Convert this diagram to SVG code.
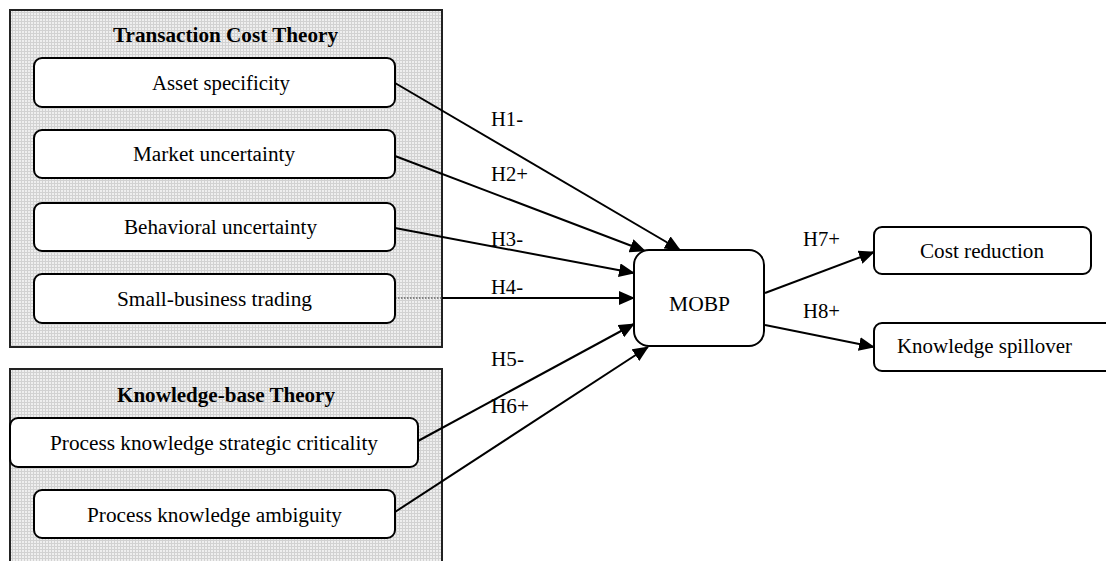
<svg xmlns="http://www.w3.org/2000/svg" width="1106" height="561" viewBox="0 0 1106 561">
<style>
text{font-family:"Liberation Serif","Times New Roman",serif;font-size:20px;fill:#000}
.title{font-weight:bold}
.panel{fill:url(#grid);stroke:#222;stroke-width:2}
.node{fill:#fff;stroke:#000;stroke-width:2}
.edge{fill:none;stroke:#000;stroke-width:2;marker-end:url(#arr)}
</style>
<defs>
<pattern id="grid" width="3" height="3" patternUnits="userSpaceOnUse">
<rect width="3" height="3" fill="#efefef"/>
<path d="M0 0.5H3M0.5 0V3" stroke="#d2d2d2" stroke-width="1"/>
</pattern>
<marker id="arr" markerWidth="16" markerHeight="14" refX="15" refY="7" orient="auto" markerUnits="userSpaceOnUse">
<path d="M0 0L16 7L0 14z" fill="#000"/>
</marker>
</defs>
<rect width="1106" height="561" fill="#fff"/>

<g id="tct">
<rect class="panel" x="10" y="10" width="432" height="337"/>
<text class="title" x="225.5" y="42" text-anchor="middle" textLength="225" lengthAdjust="spacingAndGlyphs">Transaction Cost Theory</text>
</g>
<g id="kbt">
<rect class="panel" x="10" y="369" width="432" height="200"/>
<text class="title" x="226" y="402" text-anchor="middle" textLength="218" lengthAdjust="spacingAndGlyphs">Knowledge-base Theory</text>
</g>

<g id="connectors">
<path class="edge" d="M395 83L680 250"/>
<path class="edge" d="M395 156L645 251"/>
<path class="edge" d="M395 228L634 273"/>
<path d="M395 298H442" stroke="#666" stroke-width="1.5" stroke-dasharray="1.5 1.5" fill="none"/>
<path class="edge" d="M442 298H634"/>
<path class="edge" d="M418 441L634 324"/>
<path class="edge" d="M395 512L648 347"/>
<path class="edge" d="M765 293L874 252"/>
<path class="edge" d="M765 325L874 347"/>
<text x="491" y="126" textLength="32" lengthAdjust="spacingAndGlyphs">H1-</text>
<text x="491" y="181" textLength="37" lengthAdjust="spacingAndGlyphs">H2+</text>
<text x="491" y="246" textLength="32" lengthAdjust="spacingAndGlyphs">H3-</text>
<text x="491" y="294" textLength="32" lengthAdjust="spacingAndGlyphs">H4-</text>
<text x="491" y="366" textLength="33" lengthAdjust="spacingAndGlyphs">H5-</text>
<text x="491" y="413" textLength="38" lengthAdjust="spacingAndGlyphs">H6+</text>
<text x="803" y="246" textLength="37" lengthAdjust="spacingAndGlyphs">H7+</text>
<text x="803" y="318" textLength="37" lengthAdjust="spacingAndGlyphs">H8+</text>
</g>

<g id="asset">
<rect class="node" x="34" y="58" width="361" height="49" rx="8"/>
<text x="221" y="90" text-anchor="middle" textLength="138" lengthAdjust="spacingAndGlyphs">Asset specificity</text>
</g>
<g id="market">
<rect class="node" x="34" y="130" width="361" height="48" rx="8"/>
<text x="214" y="161" text-anchor="middle" textLength="162" lengthAdjust="spacingAndGlyphs">Market uncertainty</text>
</g>
<g id="behavioral">
<rect class="node" x="34" y="203" width="361" height="48" rx="8"/>
<text x="220.5" y="234" text-anchor="middle" textLength="193" lengthAdjust="spacingAndGlyphs">Behavioral uncertainty</text>
</g>
<g id="smallbiz">
<rect class="node" x="34" y="274" width="361" height="49" rx="8"/>
<text x="214.5" y="306" text-anchor="middle" textLength="195" lengthAdjust="spacingAndGlyphs">Small-business trading</text>
</g>
<g id="pksc">
<rect class="node" x="10" y="418" width="408" height="49" rx="8"/>
<text x="214" y="450" text-anchor="middle" textLength="328" lengthAdjust="spacingAndGlyphs">Process knowledge strategic criticality</text>
</g>
<g id="pka">
<rect class="node" x="34" y="490" width="361" height="48" rx="8"/>
<text x="214.5" y="522" text-anchor="middle" textLength="255" lengthAdjust="spacingAndGlyphs">Process knowledge ambiguity</text>
</g>
<g id="mobp">
<rect class="node" x="634" y="250" width="130" height="96" rx="15"/>
<text x="699.5" y="311" text-anchor="middle" textLength="61" lengthAdjust="spacingAndGlyphs">MOBP</text>
</g>
<g id="cost">
<rect class="node" x="874" y="227" width="217" height="47" rx="8"/>
<text x="982" y="258" text-anchor="middle" textLength="124" lengthAdjust="spacingAndGlyphs">Cost reduction</text>
</g>
<g id="spill">
<rect class="node" x="874" y="323" width="250" height="48" rx="8"/>
<text x="897" y="353" textLength="175" lengthAdjust="spacingAndGlyphs">Knowledge spillover</text>
</g>
</svg>
